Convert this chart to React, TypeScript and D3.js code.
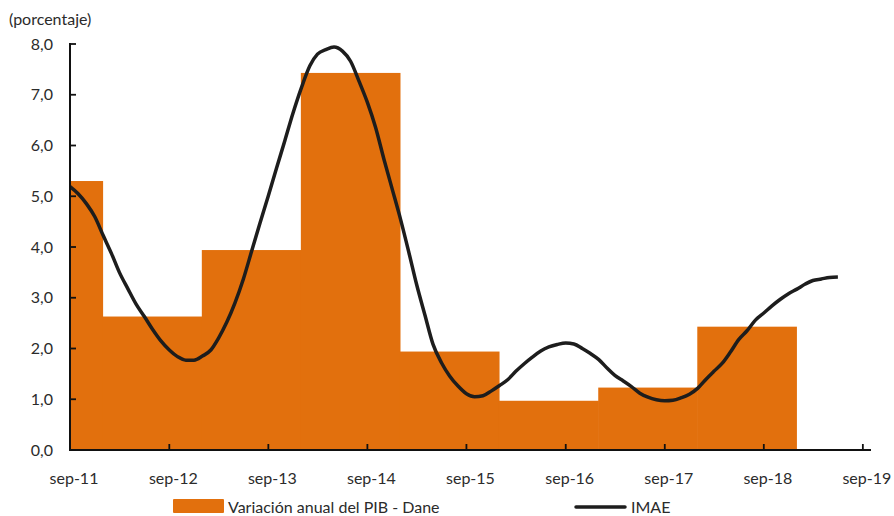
import React from "react";
import * as d3 from "d3";

// Annual GDP growth (Dane) per calendar year; 2011 starts at sep-11
const pibYears = [2011, 2012, 2013, 2014, 2015, 2016, 2017, 2018];
const pibValues = [5.3, 2.63, 3.94, 7.43, 1.94, 0.97, 1.23, 2.43];

// IMAE monthly series from sep-11 to jun-19
const imaeStart = new Date(2011, 8, 1);
const imaeValues = [
  5.19, 5.05, 4.85, 4.6, 4.23, 3.87, 3.5, 3.18, 2.88, 2.63, 2.38, 2.15,
  1.97, 1.84, 1.77, 1.77, 1.85, 1.97, 2.2, 2.52, 2.9, 3.37, 3.91, 4.47,
  5.01, 5.55, 6.1, 6.64, 7.14, 7.57, 7.8, 7.89, 7.94, 7.86, 7.66, 7.27,
  6.85, 6.36, 5.73, 5.15, 4.55, 3.89, 3.27, 2.66, 2.08, 1.72, 1.46, 1.26,
  1.11, 1.05, 1.07, 1.16, 1.27, 1.39, 1.55, 1.7, 1.83, 1.95, 2.03, 2.08,
  2.11, 2.09, 2.0, 1.9, 1.78, 1.61, 1.47, 1.36, 1.25, 1.12, 1.04, 0.99,
  0.97, 0.98, 1.03, 1.1, 1.22, 1.4, 1.55, 1.71, 1.93, 2.18, 2.35, 2.56,
  2.7, 2.84, 2.97, 3.08, 3.17, 3.27, 3.34, 3.37, 3.4, 3.41,
];

const yTicks = [0, 1, 2, 3, 4, 5, 6, 7, 8];
const xTickLabels = ["sep-11", "sep-12", "sep-13", "sep-14", "sep-15", "sep-16", "sep-17", "sep-18", "sep-19"];
const xTickDates = [2011, 2012, 2013, 2014, 2015, 2016, 2017, 2018, 2019].map((y) => new Date(y, 8, 1));

const BAR = "#E2700D";
const FONT = "Lato, 'Open Sans', sans-serif";
const TXT = "#2b2b2b";

export default function App() {
  const width = 894;
  const height = 516;
  const left = 70;
  const right = 871;
  const top = 44;
  const bottom = 450;

  const x = d3.scaleTime().domain([new Date(2011, 8, 1), new Date(2019, 9, 1)]).range([left, right]);
  const y = d3.scaleLinear().domain([0, 8]).range([bottom, top]);

  const bars = pibYears.map((yr, i) => ({
    d0: yr === 2011 ? new Date(2011, 8, 1) : new Date(yr, 0, 1),
    d1: new Date(yr + 1, 0, 1),
    v: pibValues[i],
  }));

  const imae = imaeValues.map((v, i) => ({ d: d3.timeMonth.offset(imaeStart, i), v }));
  const line = d3
    .line<{ d: Date; v: number }>()
    .x((p) => x(p.d))
    .y((p) => y(p.v))
    .curve(d3.curveMonotoneX);

  const fmt = (v: number) => v.toFixed(1).replace(".", ",");

  return (
    <svg width={width} height={height} style={{ display: "block", position: "absolute", left: 0, top: 0 }}>
      <rect width={width} height={height} fill="#fff" />
      {bars.map((b, i) => (
        <rect
          key={i}
          x={x(b.d0) - (i > 0 ? 0.6 : 0)}
          y={y(b.v)}
          width={x(b.d1) - x(b.d0) + (i > 0 ? 0.6 : 0)}
          height={y(0) - y(b.v)}
          fill={BAR}
        />
      ))}
      <path d={line(imae) || ""} fill="none" stroke="#1d1d1d" strokeWidth={3.5} strokeLinejoin="round" />

      {/* axes */}
      <line x1={left} x2={left} y1={top - 1} y2={bottom} stroke="#111" strokeWidth={2} />
      <line x1={left - 1} x2={right} y1={bottom} y2={bottom} stroke="#111" strokeWidth={2} />
      {yTicks.map((t) => (
        <g key={t}>
          <line x1={left} x2={left + 6} y1={y(t)} y2={y(t)} stroke="#111" strokeWidth={1.8} />
          <text x={53} y={y(t) + 5.5} textAnchor="end" fontFamily={FONT} fontSize={16} fill={TXT}>
            {fmt(t)}
          </text>
        </g>
      ))}
      {xTickDates.map((d, i) => (
        <g key={i}>
          {i > 0 && <line x1={x(d)} x2={x(d)} y1={bottom - 6} y2={bottom} stroke="#111" strokeWidth={1.8} />}
          <text x={x(d) + 4} y={484} textAnchor="middle" fontFamily={FONT} fontSize={16} fill={TXT}>
            {xTickLabels[i]}
          </text>
        </g>
      ))}
      <text x={9} y={25} fontFamily={FONT} fontSize={16} fill={TXT}>
        (porcentaje)
      </text>

      {/* legend */}
      <rect x={173} y={499} width={51} height={14} fill={BAR} rx={1} />
      <text x={228} y={513} fontFamily={FONT} fontSize={16} fill={TXT}>
        Variación anual del PIB - Dane
      </text>
      <line x1={576} x2={625} y1={507} y2={507} stroke="#1d1d1d" strokeWidth={3.5} strokeLinecap="round" />
      <text x={631} y={513} fontFamily={FONT} fontSize={16} fill={TXT}>
        IMAE
      </text>
    </svg>
  );
}
